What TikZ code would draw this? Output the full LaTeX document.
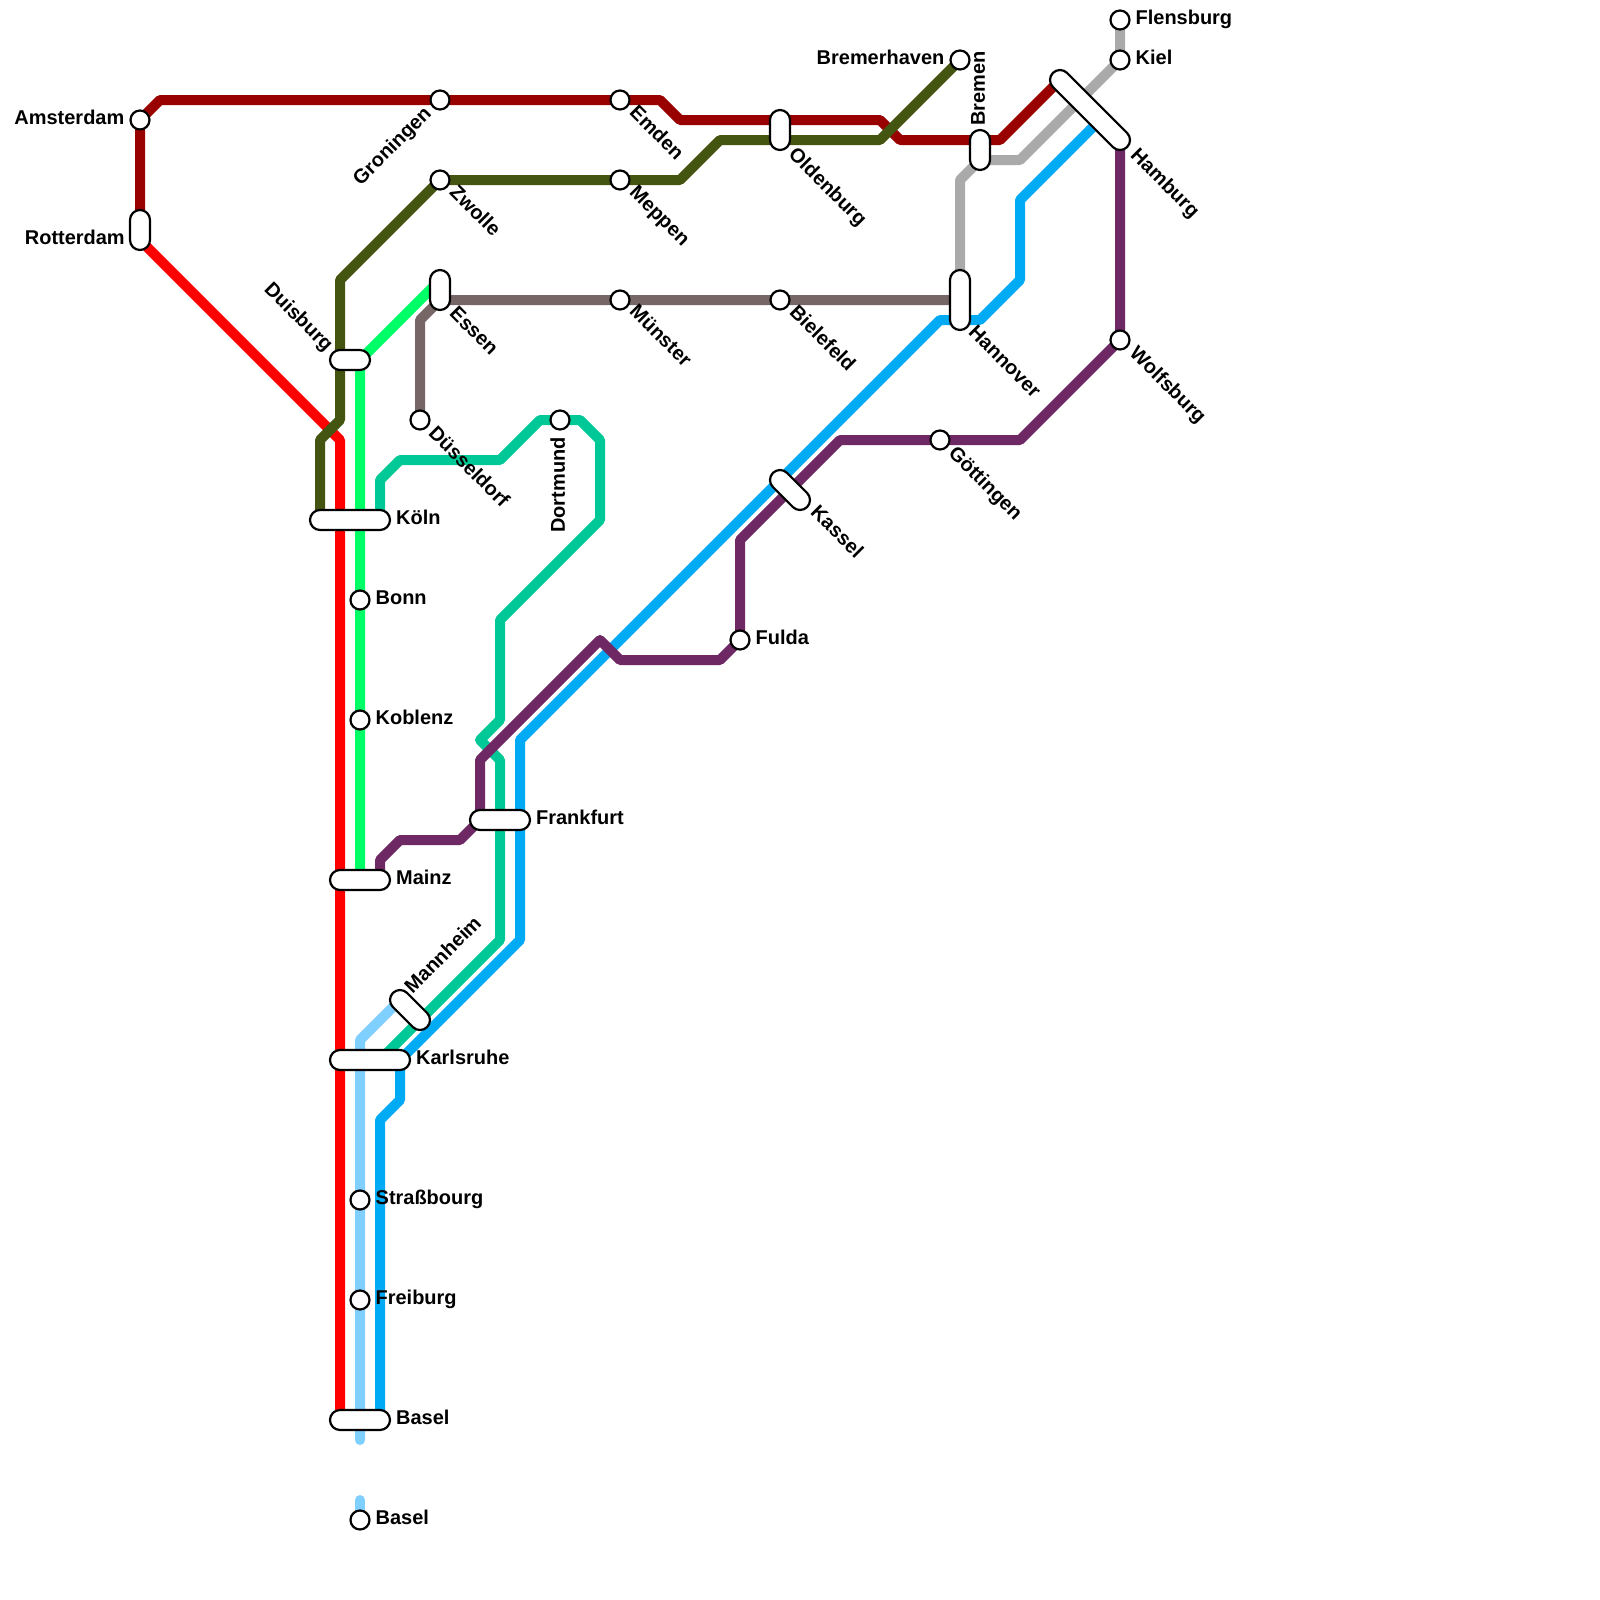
\documentclass[tikz,border=0pt]{standalone}
\usepackage{fontspec}
\setmainfont{Liberation Sans}
\usetikzlibrary{calc,positioning,shapes.misc}
\definecolor{linedarkred}{HTML}{990000}
\definecolor{linered}{HTML}{FF0000}
\definecolor{lineolive}{HTML}{445511}
\definecolor{linegreen}{HTML}{00FF66}
\definecolor{linegray}{HTML}{AAAAAA}
\definecolor{linebrown}{HTML}{776666}
\definecolor{lineteal}{HTML}{00C896}
\definecolor{lineblue}{HTML}{00AAF5}
\definecolor{linepurple}{HTML}{6E2864}
\definecolor{lineice}{HTML}{80D0FF}
\pgfdeclarelayer{lines}
\pgfsetlayers{lines,main}
\tikzset{
  route/.style={line width=2.5mm, line join=round},
  stop/.style={draw, circle, fill=white, line width=0.55mm, minimum size=4.75mm, inner sep=0pt},
  hub/.style={draw, rounded rectangle, fill=white, line width=0.55mm, minimum width=#1*5mm+5mm, minimum height=5mm, inner sep=0pt},
  tag/.style={font=\fontsize{14.2}{16}\selectfont\bfseries, inner sep=0pt, text height=12pt, text depth=5pt},
  tagdown/.style={tag, rotate=-45, anchor=west},
  tagup/.style={tag, rotate=45, anchor=east},
}
\begin{document}
\begin{tikzpicture}[x=5mm, y=-5mm]
  \useasboundingbox (0,0) rectangle (80,80);

  \node[stop] (amst) at (7,6) {};
  \node[hub=1, rotate=90] (rott) at (7,11.5) {};
  \node[stop] (gron) at (22,5) {};
  \node[stop] (emde) at (31,5) {};
  \node[stop] (zwol) at (22,9) {};
  \node[stop] (mepp) at (31,9) {};
  \node[hub=1, rotate=90] (olde) at (39,6.5) {};
  \node[stop] (brhv) at (48,3) {};
  \node[hub=1, rotate=90] (brem) at (49,7.5) {};
  \node[stop] (flen) at (56,1) {};
  \node[stop] (kiel) at (56,3) {};
  \node[hub=4.243, rotate=-45] (hamb) at (54.5,5.5) {};
  \node[hub=1, rotate=90] (esse) at (22,14.5) {};
  \node[stop] (muen) at (31,15) {};
  \node[stop] (bief) at (39,15) {};
  \node[hub=2, rotate=90] (hann) at (48,15) {};
  \node[stop] (wolf) at (56,17) {};
  \node[hub=1] (duis) at (17.5,18) {};
  \node[stop] (dues) at (21,21) {};
  \node[stop] (dort) at (28,21) {};
  \node[stop] (goet) at (47,22) {};
  \node[hub=1.414, rotate=-45] (kass) at (39.5,24.5) {};
  \node[hub=3] (koel) at (17.5,26) {};
  \node[stop] (bonn) at (18,30) {};
  \node[stop] (fuld) at (37,32) {};
  \node[stop] (kobl) at (18,36) {};
  \node[hub=2] (fran) at (25,41) {};
  \node[hub=2] (main) at (18,44) {};
  \node[hub=1.414, rotate=-45] (mann) at (20.5,50.5) {};
  \node[hub=3] (karl) at (18.5,53) {};
  \node[stop] (stra) at (18,60) {};
  \node[stop] (frei) at (18,65) {};
  \node[hub=2] (base) at (18,71) {};
  \node[stop] (basl) at (18,76) {};

  \node[tag, left=1.2mm of amst] (amstl) {Amsterdam};
  \node[tag, anchor=east] (rottl) at ($(rott)+(-.75,.5)$) {Rotterdam};
  \node[tagup] (gronl) at ($(gron)+(-.55,.55)$) {Groningen};
  \node[tagdown] (emdel) at ($(emde)+(.6,.5)$) {Emden};
  \node[tagdown] (zwoll) at ($(zwol)+(.6,.5)$) {Zwolle};
  \node[tagdown] (meppl) at ($(mepp)+(.6,.5)$) {Meppen};
  \node[tagdown] (oldel) at ($(olde)+(.55,1.1)$) {Oldenburg};
  \node[tag, left=1.2mm of brhv] (brhvl) {Bremerhaven};
  \node[tag, rotate=90, anchor=west] (breml) at ($(brem)+(0,-1.2)$) {Bremen};
  \node[tag, right=1.2mm of flen] (flenl) {Flensburg};
  \node[tag, right=1.2mm of kiel] (kiell) {Kiel};
  \node[tagdown] (hambl) at ($(hamb)+(2.15,2.15)$) {Hamburg};
  \node[tagdown] (essel) at ($(esse)+(.6,1.05)$) {Essen};
  \node[tagdown] (muenl) at ($(muen)+(.6,.45)$) {Münster};
  \node[tagdown] (biefl) at ($(bief)+(.6,.5)$) {Bielefeld};
  \node[tagdown] (hannl) at ($(hann)+(.55,1.5)$) {Hannover};
  \node[tagdown] (wolfl) at ($(wolf)+(.6,.55)$) {Wolfsburg};
  \node[tag, rotate=-45, anchor=east] (duisl) at ($(duis)+(-1.05,-.55)$) {Duisburg};
  \node[tagdown] (duesl) at ($(dues)+(.55,.55)$) {Düsseldorf};
  \node[tag, rotate=90, anchor=east] (dortl) at ($(dort)+(0,.85)$) {Dortmund};
  \node[tagdown] (goetl) at ($(goet)+(.55,.55)$) {Göttingen};
  \node[tagdown] (kassl) at ($(kass)+(1.15,1)$) {Kassel};
  \node[tag, right=1.2mm of koel] (koell) {Köln};
  \node[tag, right=1.2mm of bonn] (bonnl) {Bonn};
  \node[tag, right=1.2mm of fuld] (fuldl) {Fulda};
  \node[tag, right=1.2mm of kobl] (kobll) {Koblenz};
  \node[tag, right=1.2mm of fran] (franl) {Frankfurt};
  \node[tag, right=1.2mm of main] (mainl) {Mainz};
  \node[tag, rotate=45, anchor=west] (mannl) at ($(mann)+(-.05,-.95)$) {Mannheim};
  \node[tag, right=1.2mm of karl] (karll) {Karlsruhe};
  \node[tag, right=1.2mm of stra] (stral) {Straßbourg};
  \node[tag, right=1.2mm of frei] (freil) {Freiburg};
  \node[tag, right=1.2mm of base] (basel) {Basel};
  \node[tag, right=1.2mm of basl] (basll) {Basel};

  \begin{pgfonlayer}{lines}
    \draw[route, linegray] (flen.center) -- (kiel.center) -- (51,8) -- (49,8) -- (48,9) -- (hann.center);
    \draw[route, linebrown] (dues.center) -- (21,16) -- (22,15) -- (muen.center) -- (bief.center) -- (hann.center);
    \draw[route, linered] (rott.center) -- (7,12) -- (17,22) -- (17,71) -- (base.center);
    \draw[route, linedarkred] (rott.center) -- (amst.center) -- (8,5) -- (gron.center) -- (emde.center) -- (33,5) -- (34,6) -- (44,6) -- (45,7) -- (50,7) -- (53,4) -- (hamb.center);
    \draw[route, linegreen] (esse.center) -- (22,14) -- (18,18) -- (bonn.center) -- (kobl.center) -- (main.center);
    \draw[route, lineice, line cap=round] (mann.center) -- (20,50) -- (18,52) -- (stra.center) -- (frei.center) -- (18,72);
    \draw[route, lineice, line cap=round] (18,75) -- (basl.center);
    \draw[route, lineteal] (koel.center) -- (19,26) -- (19,24) -- (20,23) -- (25,23) -- (27,21) -- (dort.center) -- (29,21) -- (30,22) -- (30,26) -- (25,31) -- (25,36) -- (24,37) -- (25,38) -- (25,47) -- (19,53) -- (karl.center);
    \draw[route, lineblue] (hamb.center) -- (55,6) -- (51,10) -- (51,14) -- (49,16) -- (47,16) -- (26,37) -- (26,47) -- (20,53) -- (20,55) -- (19,56) -- (19,71) -- (base.center);
    \draw[route, lineolive] (brhv.center) -- (44,7) -- (36,7) -- (34,9) -- (mepp.center) -- (zwol.center) -- (17,14) -- (17,21) -- (16,22) -- (16,26) -- (koel.center);
    \draw[route, linepurple] (hamb.center) -- (56,7) -- (wolf.center) -- (51,22) -- (goet.center) -- (42,22) -- (37,27) -- (fuld.center) -- (36,33) -- (31,33) -- (30,32) -- (24,38) -- (24,41) -- (23,42) -- (20,42) -- (19,43) -- (19,44) -- (main.center);
  \end{pgfonlayer}
\end{tikzpicture}
\end{document}
